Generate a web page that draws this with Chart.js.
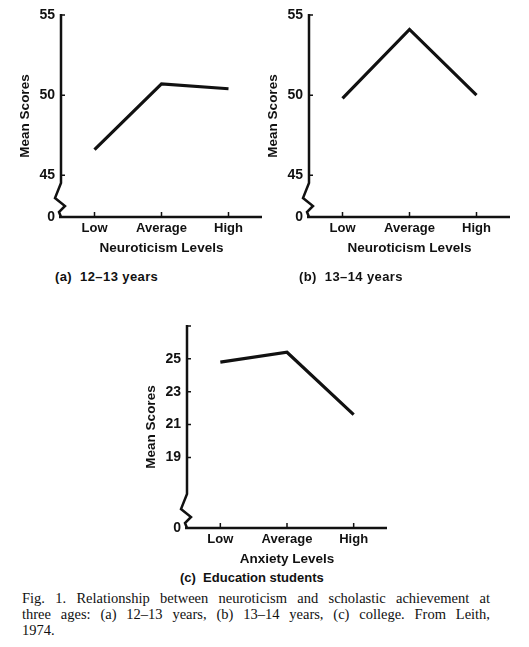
<!DOCTYPE html>
<html>
<head>
<meta charset="utf-8">
<script src="https://cdn.jsdelivr.net/npm/chart.js@4"></script>
<style>
  body { margin: 0; background: #fff; width: 529px; height: 647px; position: relative; overflow: hidden; }
  canvas { position: absolute; }
  .sub { position: absolute; font: bold 13px "Liberation Sans", Arial, sans-serif; letter-spacing: 0.4px; color: #111; white-space: pre; }
  .cap { position: absolute; left: 22px; width: 468px; font: 14.5px "Liberation Serif", serif; color: #111; white-space: nowrap; }
  .cap.j { text-align: justify; text-align-last: justify; white-space: normal; }
</style>
</head>
<body>
<canvas id="chartA" width="268" height="259" style="left:0px;top:0px"></canvas>
<canvas id="chartB" width="268" height="259" style="left:248px;top:0px"></canvas>
<canvas id="chartC" width="267" height="259" style="left:126px;top:311px"></canvas>

<div class="sub" style="left:55px;top:269px">(a)  12–13 years</div>
<div class="sub" style="left:299px;top:269px">(b)  13–14 years</div>
<div class="sub" style="left:180px;top:570px;letter-spacing:0">(c)  Education students</div>

<div class="cap j" style="top:590px">Fig. 1.  Relationship between neuroticism and scholastic achievement at</div>
<div class="cap j" style="top:606px">three ages: (a) 12–13 years, (b) 13–14 years, (c) college. From Leith,</div>
<div class="cap" style="top:622px">1974.</div>

<script>
const levels = ['Low', 'Average', 'High'];

// mean scores
const scores1213 = [46.6, 50.7, 50.4];
const scores1314 = [49.8, 54.1, 50.0];
const scoresEdu = [24.8, 25.4, 21.6];

// y ranges (bottom of each axis is the broken "0")
const ticksA = [45, 50, 55];
const ticksB = [45, 50, 55];
const ticksC = [19, 21, 23, 25];

const xTickFont = { family: 'Liberation Sans', size: 13, weight: 'bold' };
const yTickFont = { family: 'Liberation Sans', size: 14, weight: 'bold' };
const titleFont = { family: 'Liberation Sans', size: 13.5, weight: 'bold' };

// axis lines with the zigzag break, plus short inward tick marks
const axisBreak = {
    id: 'axisBreak',
    afterDraw(chart) {
        const { ctx, chartArea: a, scales: { x, y } } = chart;
        ctx.save();
        ctx.strokeStyle = '#111';
        ctx.lineWidth = 2.5;
        ctx.lineJoin = 'miter';
        const zig = [[0, -34], [-6, -19], [4, -11], [-2, -5], [0, 0]];
        ctx.beginPath();
        ctx.moveTo(a.left, a.top - 1);
        zig.forEach(([dx, dy]) => ctx.lineTo(a.left + dx, a.bottom + dy));
        ctx.stroke();

        ctx.beginPath();
        ctx.moveTo(a.left - 2, a.bottom);
        ctx.lineTo(a.right, a.bottom);
        ctx.stroke();

        ctx.lineWidth = 1.5;
        ctx.beginPath();
        ctx.moveTo(a.left, a.top);
        ctx.lineTo(a.left + 4, a.top);
        y.ticks.forEach((t, i) => {
            if (i === 0) return;
            const py = y.getPixelForValue(t.value);
            ctx.moveTo(a.left, py);
            ctx.lineTo(a.left + 4, py);
        });
        x.ticks.forEach((t, i) => {
            const px = x.getPixelForTick(i);
            ctx.moveTo(px, a.bottom);
            ctx.lineTo(px, a.bottom - 5);
        });
        ctx.stroke();
        ctx.restore();
    }
};

function makePanel(id, values, yMin, yMax, yTicks, xTitle) {
    const ctx = document.getElementById(id).getContext('2d');
    return new Chart(ctx, {
        type: 'line',
        data: {
            labels: levels,
            datasets: [{
                data: values,
                borderColor: '#111',
                borderWidth: 3.2,
                borderJoinStyle: 'miter',
                pointRadius: 0,
                tension: 0,
                clip: false
            }]
        },
        options: {
            responsive: false,
            animation: false,
            events: [],
            layout: { padding: { top: 15, right: 6, left: 13, bottom: 0 } },
            plugins: { legend: { display: false }, tooltip: { enabled: false } },
            scales: {
                x: {
                    offset: true,
                    grid: { display: false, drawTicks: false },
                    border: { display: false },
                    ticks: { color: '#111', font: xTickFont, padding: 4 },
                    title: { display: true, text: xTitle, color: '#111', font: titleFont, padding: { top: 0, bottom: 3 } },
                    afterFit: s => { s.height = 42; }
                },
                y: {
                    min: yMin,
                    max: yMax,
                    grid: { display: false, drawTicks: false },
                    border: { display: false },
                    afterBuildTicks: s => { s.ticks = [yMin, ...yTicks].map(v => ({ value: v })); },
                    ticks: {
                        color: '#111',
                        font: yTickFont,
                        padding: 6,
                        callback: v => v === yMin ? '0' : v
                    },
                    title: { display: true, text: 'Mean Scores', color: '#111', font: titleFont, padding: { top: 4, bottom: 0 } },
                    afterFit: s => { s.width = 48; }
                }
            }
        },
        plugins: [axisBreak]
    });
}

makePanel('chartA', scores1213, 42.4, 55, ticksA, 'Neuroticism Levels');
makePanel('chartB', scores1314, 42.4, 55, ticksB, 'Neuroticism Levels');
makePanel('chartC', scoresEdu, 14.7, 27, ticksC, 'Anxiety Levels');
</script>
</body>
</html>
